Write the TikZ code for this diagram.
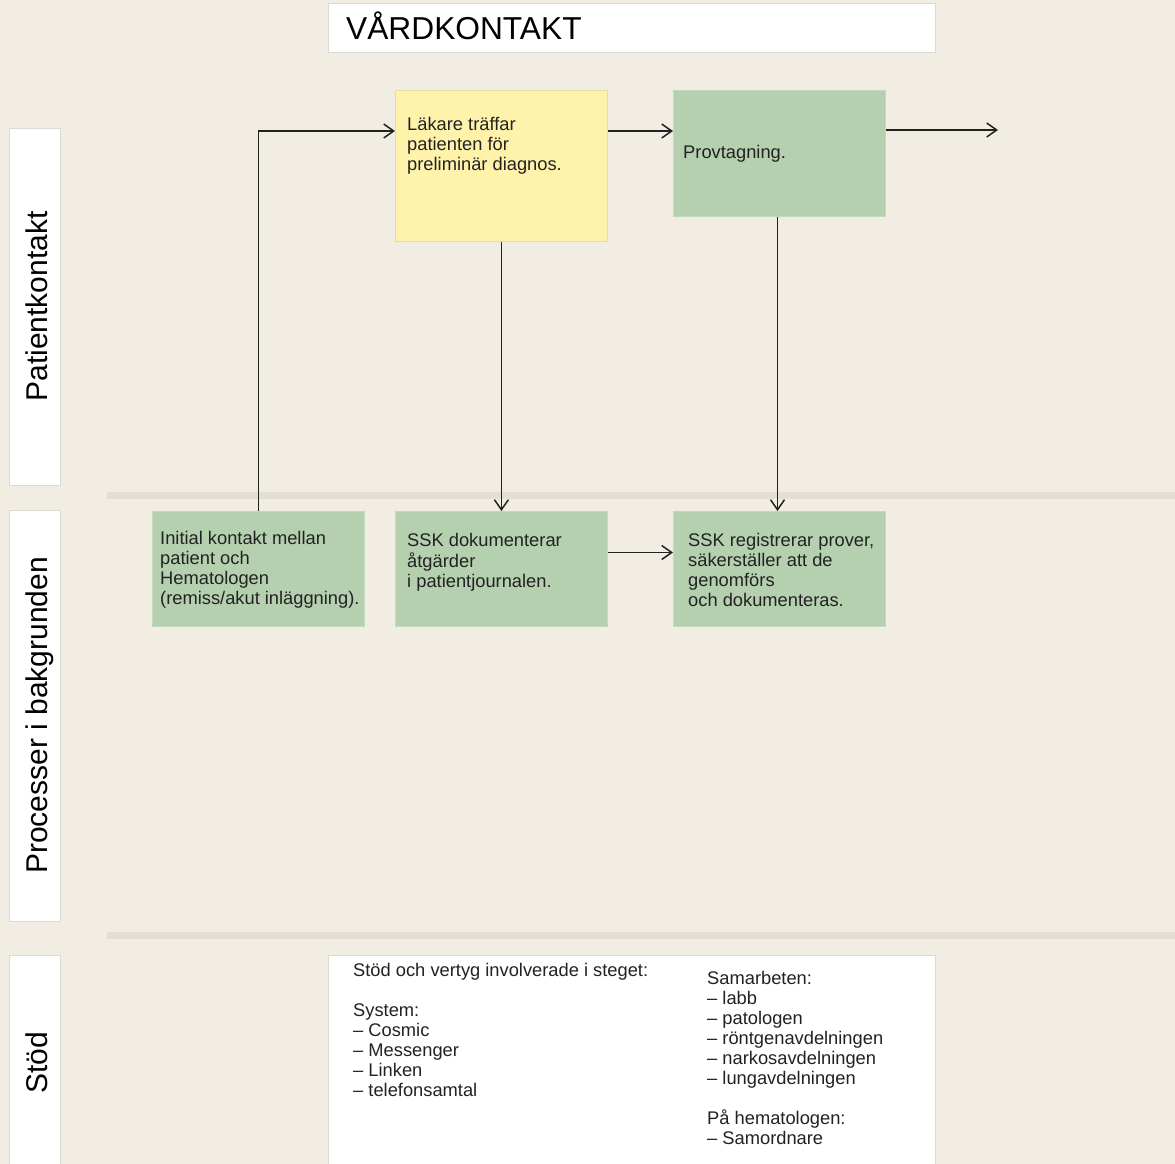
\documentclass[tikz,border=0pt]{standalone}
\usepackage{fontspec}
\setmainfont{Liberation Sans}
\usetikzlibrary{arrows.meta}
\definecolor{paper}{HTML}{F1EDE3}
\definecolor{sepline}{HTML}{E3DFD2}
\definecolor{stepgreen}{HTML}{B5D0AF}
\definecolor{stepgreenedge}{HTML}{C2D9BE}
\definecolor{stepyellow}{HTML}{FFF2AA}
\definecolor{stepyellowedge}{HTML}{E8DD9E}
\definecolor{paneledge}{HTML}{DCDAD4}
\definecolor{ink}{HTML}{222222}
\begin{document}
\begin{tikzpicture}[x=1pt,y=-1pt,
  panel/.style={draw=paneledge, line width=0.8pt, fill=white, inner sep=0pt, anchor=north west},
  greenbox/.style={draw=stepgreenedge, line width=0.8pt, fill=stepgreen, inner sep=0pt, anchor=north west,
                   minimum width=212pt},
  yellowbox/.style={draw=stepyellowedge, line width=0.8pt, fill=stepyellow, inner sep=0pt, anchor=north west,
                   minimum width=212pt},
  boxtext/.style={anchor=north west, inner sep=0pt, align=left, text=ink,
                  font=\fontsize{18.3}{20}\selectfont},
  lanetext/.style={anchor=base, inner sep=0pt, rotate=90, text=black,
                   font=\fontsize{30}{34}\selectfont},
  lanesep/.style={draw=sepline, line width=7pt},
  conn/.style={draw=ink, line width=1.5pt, -{Straight Barb[length=10pt,width=14pt,line width=1.5pt]}}
]
\useasboundingbox (0,0) rectangle (1175,1164);
\fill[paper] (0,0) rectangle (1175,1164);

% lane separators
\draw[lanesep] (107,495.5) -- (1175,495.5);
\draw[lanesep] (107,935.5) -- (1175,935.5);

% title
\node[panel, minimum width=607pt, minimum height=49pt] (titlebox) at (328,3) {};
\node[anchor=base west, inner sep=0pt, font=\fontsize{31.7}{36}\selectfont] (title) at (346,40) {VÅRDKONTAKT};

% lane labels
\node[panel, minimum width=51pt, minimum height=357pt] (lane1) at (9,128) {};
\node[panel, minimum width=51pt, minimum height=411pt] (lane2) at (9,510) {};
\node[panel, minimum width=51pt, minimum height=215pt] (lane3) at (9,955) {};
\node[lanetext] (lane1text) at (47,306.5) {Patientkontakt};
\node[lanetext] (lane2text) at (47,715.5) {Processer i bakgrunden};
\node[lanetext] (lane3text) at (47,1063) {Stöd};

% patient contact lane
\node[yellowbox, minimum height=151pt] (lakare) at (395,90) {};
\node[boxtext] (lakaretext) at (407,116) {\strut Läkare träffar\\patienten för\\preliminär diagnos.};
\node[greenbox, minimum height=126pt] (prov) at (673,90) {};
\node[boxtext] (provtext) at (683,144) {\strut Provtagning.};

% background processes lane
\node[greenbox, minimum height=115pt] (initial) at (152,511) {};
\node[boxtext] (initialtext) at (160,530) {\strut Initial kontakt mellan\\patient och\\Hematologen\\(remiss/akut inläggning).};
\node[greenbox, minimum height=115pt] (dok) at (395,511) {};
\node[boxtext] (doktext) at (407,532) {\strut SSK dokumenterar\\åtgärder\\i patientjournalen.};
\node[greenbox, minimum height=115pt] (reg) at (673,511) {};
\node[boxtext] (regtext) at (688,532) {\strut SSK registrerar prover,\\säkerställer att de\\genomförs\\och dokumenteras.};

% support lane
\node[panel, minimum width=607pt, minimum height=215pt] (stod) at (328,955) {};
\node[boxtext] (stodleft) at (353,962) {\strut Stöd och vertyg involverade i steget:\\[20pt]System:\\– Cosmic\\– Messenger\\– Linken\\– telefonsamtal};
\node[boxtext] (stodright) at (707,970) {\strut Samarbeten:\\– labb\\– patologen\\– röntgenavdelningen\\– narkosavdelningen\\– lungavdelningen\\[20pt]På hematologen:\\– Samordnare};

% connectors
\coordinate (toprow) at (0,131);
\coordinate (outrow) at (0,130);
\coordinate (midrow) at (0,552.5);
\coordinate (downcol) at (777.5,0);
\coordinate (exit) at (998,130);
\draw[conn] (initial.north) |- (lakare.west |- toprow);
\draw[conn] (lakare.east |- toprow) -- (prov.west |- toprow);
\draw[conn] (prov.east |- outrow) -- (exit);
\draw[conn] (lakare.south) -- (dok.north);
\draw[conn] (prov.south -| downcol) -- (reg.north -| downcol);
\draw[conn] (dok.east |- midrow) -- (reg.west |- midrow);
\end{tikzpicture}
\end{document}
